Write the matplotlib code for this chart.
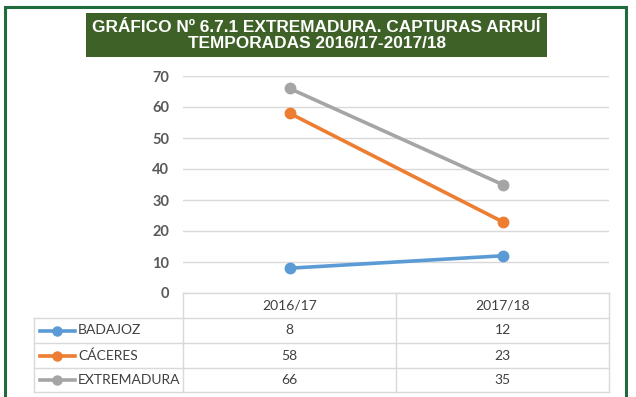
import matplotlib
matplotlib.use("Agg")
import matplotlib.pyplot as plt
from matplotlib.patches import Rectangle
from matplotlib.lines import Line2D
from matplotlib.transforms import blended_transform_factory

categories = ["2016/17", "2017/18"]
series_names = ["BADAJOZ", "CÁCERES", "EXTREMADURA"]
badajoz = [8, 12]
caceres = [58, 23]
extremadura = [66, 35]
yticks = [0, 10, 20, 30, 40, 50, 60, 70]
title = "GRÁFICO Nº 6.7.1 EXTREMADURA. CAPTURAS ARRUÍ\nTEMPORADAS 2016/17-2017/18"

series = [badajoz, caceres, extremadura]
colors = ["#5B9BD5", "#ED7D31", "#A5A5A5"]

W, H = 636, 397
fig = plt.figure(figsize=(W / 100, H / 100), dpi=100)
fig.patch.set_facecolor("white")

def fx(px):
    return px / W

def fy(py):
    return 1 - py / H

# outer green border
fig.patches.append(Rectangle((fx(5), fy(400)), fx(626) - fx(5), fy(7) - fy(400),
                             transform=fig.transFigure, fill=False,
                             edgecolor="#1F6B3E", linewidth=2.2, zorder=0))

# title box
fig.patches.append(Rectangle((fx(86), fy(57)), fx(547) - fx(86), fy(13) - fy(57),
                             transform=fig.transFigure, facecolor="#3E6127",
                             edgecolor="none", zorder=1))
fig.text(fx(316.5), fy(35.5), title, ha="center", va="center", color="white",
         fontsize=12.4, fontweight="bold", linespacing=1.12,
         family=["Liberation Sans", "DejaVu Sans"])

ax_left, ax_right, ax_top, ax_bot = 183, 609, 76, 293
ax = fig.add_axes([fx(ax_left), fy(ax_bot), fx(ax_right) - fx(ax_left), fy(ax_top) - fy(ax_bot)])
ax.set_facecolor("none")
x = list(range(len(categories)))
for vals, c in zip(series, colors):
    ax.plot(x, vals, color=c, linewidth=2.6, marker="o", markersize=7.5, zorder=3,
            solid_capstyle="round", clip_on=False)
ax.set_xlim(-0.5, len(categories) - 0.5)
ax.set_ylim(0, 70)
ax.set_yticks(yticks)
ax.set_yticklabels([str(t) for t in yticks], fontsize=10.5, fontweight="bold",
                   color="#595959", family="Lato")
ax.tick_params(axis="y", length=0, pad=10)
ax.set_xticks([])
ax.grid(axis="y", color="#D9D9D9", linewidth=1)
for s in ax.spines.values():
    s.set_visible(False)

# data table
grid_c = "#D9D9D9"
txt_c = "#404040"
tfont = dict(fontsize=10, color=txt_c, family="Lato")
rows_y = [293, 318, 343, 368, 392]
col_mid = (ax_left + ax_right) / 2
fig.add_artist(Line2D([fx(ax_left), fx(ax_right)], [fy(293), fy(293)], color=grid_c, lw=1))
for yy in rows_y[1:]:
    fig.add_artist(Line2D([fx(34), fx(ax_right)], [fy(yy), fy(yy)], color=grid_c, lw=1))
fig.add_artist(Line2D([fx(34), fx(34)], [fy(318), fy(392)], color=grid_c, lw=1))
for xx in [ax_left, col_mid, ax_right]:
    fig.add_artist(Line2D([fx(xx), fx(xx)], [fy(293), fy(392)], color=grid_c, lw=1))

trans = blended_transform_factory(ax.transData, fig.transFigure)
for i, cat in enumerate(categories):
    fig.text(i, fy((rows_y[0] + rows_y[1]) / 2), cat, transform=trans,
             ha="center", va="center", **tfont)
for r, (name, vals, c) in enumerate(zip(series_names, series, colors)):
    yc = fy((rows_y[r + 1] + rows_y[r + 2]) / 2)
    fig.add_artist(Line2D([fx(40), fx(75)], [yc, yc], color=c, lw=2.6))
    fig.add_artist(Line2D([fx(57.5)], [yc], color=c, marker="o", markersize=6.5, lw=0))
    fig.text(fx(78), yc, name, ha="left", va="center", **tfont)
    for i, v in enumerate(vals):
        fig.text(i, yc, str(v), transform=trans, ha="center", va="center", **tfont)

fig.savefig("out.png", dpi=100)
